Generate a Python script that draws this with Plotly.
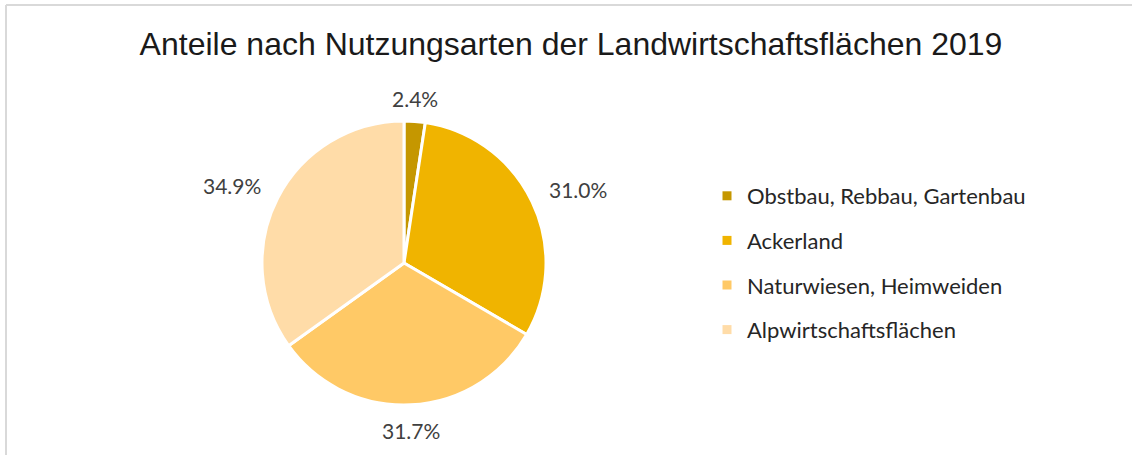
import math
import plotly.graph_objects as go

# ---- data ----
labels = ["Obstbau, Rebbau, Gartenbau", "Ackerland", "Naturwiesen, Heimweiden", "Alpwirtschaftsflächen"]
values = [2.4, 31.0, 31.7, 34.9]
colors = ["#C59700", "#F0B400", "#FFC966", "#FFDCA8"]
title_text = "Anteile nach Nutzungsarten der Landwirtschaftsflächen 2019"

W, H = 1132, 455
cx, cy, R = 404, 263, 142

fig = go.Figure()
fig.add_trace(go.Pie(
    labels=labels, values=values, sort=False, direction="clockwise", rotation=0,
    marker=dict(colors=colors, line=dict(color="white", width=3)),
    textinfo="none", showlegend=False, hoverinfo="label+percent",
    domain=dict(x=[(cx - R) / W, (cx + R) / W], y=[1 - (cy + R) / H, 1 - (cy - R) / H]),
))

# legend entries via dummy traces (allows custom spacing)
for lab, col in zip(labels, colors):
    fig.add_trace(go.Scatter(
        x=[None], y=[None], mode="markers", name=lab, legendgroup=lab,
        marker=dict(symbol="square", size=9, color=col),
    ))

# percentage labels placed outside, derived from the values
total = sum(values)
cum = 0.0
for v in values:
    th = 2 * math.pi * (cum + v / 2) / total
    cum += v
    ux, uy = math.sin(th), -math.cos(th)
    xa = "left" if ux > 0.5 else ("right" if ux < -0.5 else "center")
    ya = "bottom" if uy < -0.5 else ("top" if uy > 0.5 else "middle")
    gap = {"bottom": 8, "top": 11, "middle": 17}[ya]
    yshift = 5 if ya == "middle" else 0
    px = cx + (R + gap) * ux
    py = cy + (R + gap) * uy
    fig.add_annotation(
        x=px / W, y=1 - py / H, xref="paper", yref="paper",
        text=f"{v / total * 100:.1f}%", showarrow=False,
        xanchor=xa, yanchor=ya, yshift=yshift,
        font=dict(family="Lato, sans-serif", size=21, color="#404040"),
    )

# frame lines (top and left)
fig.add_shape(type="line", xref="paper", yref="paper", x0=6 / W, x1=1, y0=1 - 5 / H, y1=1 - 5 / H,
              line=dict(color="#D9D9D9", width=2))
fig.add_shape(type="line", xref="paper", yref="paper", x0=6 / W, x1=6 / W, y0=0, y1=1 - 5 / H,
              line=dict(color="#D9D9D9", width=2))

fig.update_layout(
    width=W, height=H,
    margin=dict(l=0, r=0, t=0, b=0),
    paper_bgcolor="white", plot_bgcolor="white",
    title=dict(text=title_text, x=571 / W, y=1 - 44 / H, xanchor="center", yanchor="middle",
               font=dict(family="Liberation Sans, Arial, sans-serif", size=32, color="#1a1a1a")),
    xaxis=dict(visible=False, domain=[0.99, 1]), yaxis=dict(visible=False, domain=[0.99, 1]),
    legend=dict(x=707 / W, y=1 - 175 / H, xanchor="left", yanchor="top",
                tracegroupgap=13, itemwidth=30,
                font=dict(family="Lato, sans-serif", size=22, color="#262626"),
                bgcolor="rgba(0,0,0,0)"),
)

fig.write_html("out.html", config={"displayModeBar": False},
               post_script="document.body.style.margin='0px';")
